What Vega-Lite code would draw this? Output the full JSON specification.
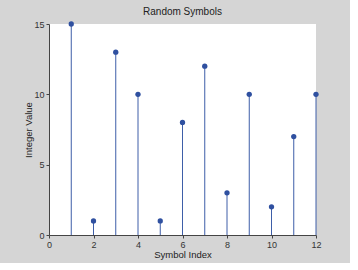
{
  "$schema": "https://vega.github.io/schema/vega-lite/v6.json",
  "width": 267,
  "height": 211,
  "autosize": {"type": "none"},
  "padding": {"left": 49, "top": 24, "right": 34, "bottom": 28},
  "background": "#d5d5d5",
  "view": {"fill": "white", "stroke": null},
  "title": {"text": "Random Symbols", "fontSize": 10, "fontWeight": "normal", "font": "Liberation Sans", "color": "#222222", "offset": 3, "frame": "group"},
  "config": {
    "font": "Liberation Sans",
    "axis": {"grid": false, "domainColor": "#444444", "tickColor": "#444444", "labelColor": "#333333", "titleColor": "#222222", "labelFontSize": 9, "titleFontSize": 9.5, "titleFontWeight": "normal", "tickSize": 3, "labelPadding": 2}
  },
  "data": {"values": [
    {"index": 1, "value": 15},
    {"index": 2, "value": 1},
    {"index": 3, "value": 13},
    {"index": 4, "value": 10},
    {"index": 5, "value": 1},
    {"index": 6, "value": 8},
    {"index": 7, "value": 12},
    {"index": 8, "value": 3},
    {"index": 9, "value": 10},
    {"index": 10, "value": 2},
    {"index": 11, "value": 7},
    {"index": 12, "value": 10}
  ]},
  "encoding": {
    "x": {"field": "index", "type": "quantitative", "scale": {"domain": [0, 12], "nice": false}, "axis": {"title": "Symbol Index", "values": [0, 2, 4, 6, 8, 10, 12], "titlePadding": 0, "labelFlush": false}},
    "y": {"field": "value", "type": "quantitative", "scale": {"domain": [0, 15], "nice": false}, "axis": {"title": "Integer Value", "values": [0, 5, 10, 15], "titlePadding": 0, "labelFlush": false}}
  },
  "layer": [
    {"mark": {"type": "rule", "color": "#3e5ea8", "strokeWidth": 1}, "encoding": {"y2": {"datum": 0}}},
    {"mark": {"type": "point", "filled": true, "shape": "circle", "size": 28, "color": "#2f50a0", "opacity": 1}}
  ]
}
